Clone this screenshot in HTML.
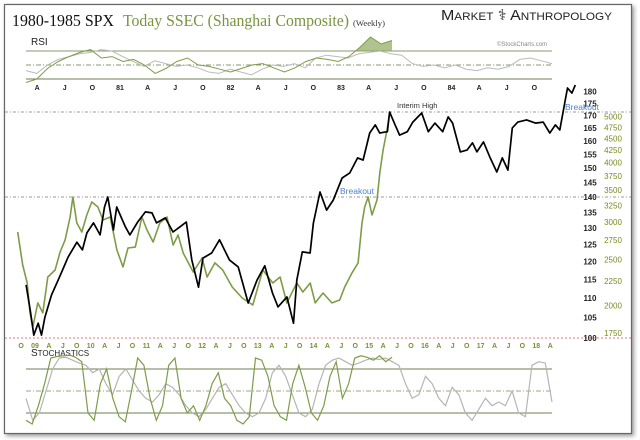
<!DOCTYPE html>
<html><head><meta charset="utf-8">
<style>
html,body{margin:0;padding:0;background:#fff;}
body{width:640px;height:440px;overflow:hidden;position:relative;font-family:"Liberation Sans",sans-serif;}
svg{position:absolute;left:0;top:0;}
</style></head>
<body>
<svg id="chart" width="640" height="440" viewBox="0 0 640 440" xmlns="http://www.w3.org/2000/svg">
  <rect x="4.5" y="4.5" width="627" height="429" fill="#fff" stroke="#666" stroke-width="1.2" style="filter:drop-shadow(2px 2px 2px #999)"/>
  <text x="12" y="26" font-family="Liberation Serif,serif" font-size="17" fill="#111" textLength="102" lengthAdjust="spacingAndGlyphs">1980-1985 SPX</text>
  <text x="123" y="26" font-family="Liberation Serif,serif" font-size="17" fill="#7a9440" textLength="226" lengthAdjust="spacingAndGlyphs">Today SSEC (Shanghai Composite)</text>
  <text x="353" y="26" font-family="Liberation Serif,serif" font-size="8.5" fill="#333" textLength="32" lengthAdjust="spacingAndGlyphs">(Weekly)</text>
  <text x="441" y="20" font-family="Liberation Sans,sans-serif" font-size="15" fill="#222" textLength="171" lengthAdjust="spacingAndGlyphs">M<tspan font-size="11">ARKET</tspan> ⚕ A<tspan font-size="11">NTHROPOLOGY</tspan></text>
  <text x="31" y="45" font-size="10" fill="#222">RSI</text>
  <text x="497" y="46" font-size="6" fill="#888">©StockCharts.com</text>
  <text x="31" y="356" font-size="10" fill="#222">S<tspan font-size="8">TOCHASTICS</tspan></text>
  <g id="g"></g>
</svg>
<script>
// ---- data ----
const spxDates=[1980.15,1980.19,1980.22,1980.26,1980.29,1980.32,1980.38,1980.44,1980.48,1980.53,1980.61,1980.66,1980.70,1980.76,1980.82,1980.86,1980.89,1980.94,1980.97,1981.05,1981.09,1981.16,1981.23,1981.29,1981.33,1981.41,1981.48,1981.54,1981.60,1981.65,1981.71,1981.75,1981.83,1981.90,1981.99,1982.07,1982.16,1982.24,1982.31,1982.38,1982.43,1982.51,1982.57,1982.60,1982.65,1982.72,1982.75,1982.81,1982.87,1982.93,1983.01,1983.08,1983.15,1983.20,1983.26,1983.31,1983.35,1983.42,1983.44,1983.49,1983.53,1983.60,1983.65,1983.73,1983.79,1983.85,1983.92,1983.97,1984.01,1984.08,1984.14,1984.19,1984.23,1984.29,1984.35,1984.41,1984.46,1984.51,1984.55,1984.60,1984.68,1984.76,1984.83,1984.89,1984.94,1984.98,1985.03,1985.05,1985.09,1985.12];
const spxValues=[113.5,106.4,100.7,103.6,100.7,105.1,110.8,114.8,117.6,121.3,125.7,123.4,128.5,131.6,127.9,136.7,140.0,129.4,136.7,130.3,127.9,131.9,135.1,134.8,131.6,133.2,128.8,130.3,131.9,120.5,112.9,121.0,122.5,126.4,120.5,118.5,108.7,114.8,118.8,111.3,107.7,110.3,103.6,114.8,122.8,122.5,131.6,141.7,135.7,139.0,146.5,148.3,153.7,152.9,163.1,166.3,163.1,163.6,171.5,166.3,162.3,163.6,167.4,171.1,163.6,167.0,163.6,169.5,167.0,155.9,156.6,159.3,155.9,159.7,153.7,148.6,153.7,149.3,165.1,167.4,168.3,167.0,167.4,163.1,166.3,164.3,176.5,181.6,179.4,182.9];
const ssecDates=[2008.69,2008.78,2008.86,2008.91,2008.96,2009.05,2009.14,2009.23,2009.36,2009.45,2009.54,2009.63,2009.68,2009.75,2009.84,2009.93,2010.02,2010.13,2010.22,2010.35,2010.47,2010.58,2010.67,2010.80,2010.92,2011.01,2011.12,2011.24,2011.37,2011.48,2011.57,2011.66,2011.84,2012.00,2012.09,2012.23,2012.37,2012.54,2012.72,2012.91,2013.09,2013.27,2013.40,2013.52,2013.70,2013.81,2013.94,2014.03,2014.17,2014.33,2014.47,2014.56,2014.69,2014.80,2014.87,2014.92,2014.98,2015.05,2015.14,2015.19,2015.25,2015.32,2015.37];
const ssecValues=[2857,2434,2231,1929,1801,2025,1929,2297,2376,2593,2750,3073,3386,2985,2857,3103,3306,3226,3029,3073,2618,2411,2644,2656,3073,2885,2722,2985,3073,2683,2816,2581,2353,2519,2297,2459,2376,2188,2074,2005,2376,2231,2297,2025,2231,2135,2231,2025,2125,2025,2054,2188,2341,2459,2985,3226,3386,3103,3338,3806,4255,4688,5117];
const spxTicks=[100,105,110,115,120,125,130,135,140,145,150,155,160,165,170,175,180];
const ssecTicks=[1750,2000,2250,2500,2750,3000,3250,3500,3750,4000,4250,4500,4750,5000];
const topAxisDates=[1980.25,1980.5,1980.75,1981,1981.25,1981.5,1981.75,1982,1982.25,1982.5,1982.75,1983,1983.25,1983.5,1983.75,1984,1984.25,1984.5,1984.75];
const topAxisLabels=["A","J","O","81","A","J","O","82","A","J","O","83","A","J","O","84","A","J","O"];
const bottomAxisDates=[2008.75,2009,2009.25,2009.5,2009.75,2010,2010.25,2010.5,2010.75,2011,2011.25,2011.5,2011.75,2012,2012.25,2012.5,2012.75,2013,2013.25,2013.5,2013.75,2014,2014.25,2014.5,2014.75,2015,2015.25,2015.5,2015.75,2016,2016.25,2016.5,2016.75,2017,2017.25,2017.5,2017.75,2018,2018.25];
const bottomAxisLabels=["O","09","A","J","O","10","A","J","O","11","A","J","O","12","A","J","O","13","A","J","O","14","A","J","O","15","A","J","O","16","A","J","O","17","A","J","O","18","A"];
const rsiSpx=[42,38,50,58,62,66,68,72,70,62,55,48,56,52,48,50,46,40,38,44,40,36,44,50,48,52,46,60,64,62,60,66,68,70,66,64,52,48,50,46,50,44,42,46,44,48,58,60,56,52];
const rsiSsec=[25,30,45,55,62,68,72,60,62,55,58,50,38,45,55,60,50,48,44,40,45,50,52,46,40,46,55,60,58,55,62,75,90,80,85];
const stochSsec=[10,5,30,60,95,97,98,99,96,90,20,10,60,80,40,15,8,50,95,85,40,10,30,85,95,40,20,30,10,30,60,75,40,30,10,5,15,95,92,70,30,15,10,60,85,55,20,10,30,70,90,40,60,95,98,96,92,98,90,96];
const stochSpx=[40,10,20,50,80,95,96,92,88,85,75,80,60,45,70,80,65,50,40,35,45,60,55,45,30,20,15,25,40,55,60,45,30,20,15,20,40,75,85,70,45,20,15,25,60,85,92,95,90,85,88,92,95,93,95,90,85,60,40,45,70,60,40,30,55,45,20,10,25,40,30,35,30,50,20,15,85,90,88,35];

// ---- scales ----
const xSpx=t=>9.5+(t-1980)*110.5;
const xSsec=t=>35+(t-2009)*55.7;
const ySpx=v=>338-419*Math.log(v/100);
const ySsec=v=>333-206*Math.log(v/1750);
const yRsi=v=>65-(v-50)*0.7;
const yStoch=v=>391-(v-50)*0.733;
const NS="http://www.w3.org/2000/svg";
const g=document.getElementById('g');
function mk(tag,attrs){const e=document.createElementNS(NS,tag);for(const k in attrs)e.setAttribute(k,attrs[k]);g.appendChild(e);return e;}
function pathFrom(xs,ys){return xs.map((x,i)=>(i?'L':'M')+x.toFixed(1)+' '+ys[i].toFixed(1)).join(' ');}
function evenX(n,x0,x1){const a=[];for(let i=0;i<n;i++)a.push(x0+(x1-x0)*i/(n-1));return a;}

// reference lines
let l;
l=mk('line',{x1:5,x2:631,y1:ySpx(171.5),y2:ySpx(171.5),stroke:'#777','stroke-width':0.8,'stroke-dasharray':'3 2 1 2'});


l=mk('line',{x1:5,x2:631,y1:ySpx(140),y2:ySpx(140),stroke:'#777','stroke-width':0.8,'stroke-dasharray':'3 2 1 2'});


l=mk('line',{x1:5,x2:631,y1:ySpx(100),y2:ySpx(100),stroke:'#e05050','stroke-width':0.8,'stroke-dasharray':'2 2'});



// RSI panel
[[70,'#8a9a70','none'],[50,'#8a9a70','5 2 1 2'],[30,'#6e8050','none']].forEach(([v,c,d])=>{
  const e=mk('line',{x1:26,x2:552,y1:yRsi(v),y2:yRsi(v),stroke:c,'stroke-width':1,'stroke-dasharray':d});
  
  
});
const rsiGx=evenX(rsiSpx.length,26,552);
let p=mk('path',{d:pathFrom(rsiGx,rsiSpx.map(yRsi)),fill:'none',stroke:'#bbb','stroke-width':1});


const rsiGrx=evenX(rsiSsec.length,26,392);
const cp=mk('clipPath',{id:'above70'});cp.innerHTML='<rect x="0" y="0" width="640" height="'+yRsi(70)+'"/>';
p=mk('path',{d:pathFrom(rsiGrx,rsiSsec.map(yRsi))+' L392 '+yRsi(70)+' L26 '+yRsi(70)+' Z',fill:'#8faa60','fill-opacity':0.7,stroke:'none','clip-path':'url(#above70)'});


p=mk('path',{d:pathFrom(rsiGrx,rsiSsec.map(yRsi)),fill:'none',stroke:'#7e9c48','stroke-width':1});



// top axis labels
topAxisDates.forEach((t,i)=>{
  const e=mk('text',{x:xSpx(t),y:90,'font-size':7,'font-weight':'bold','text-anchor':'middle',fill:'#222'});
  e.textContent=topAxisLabels[i];
  
  
});
// bottom axis labels
bottomAxisDates.forEach((t,i)=>{
  const e=mk('text',{x:xSsec(t),y:348,'font-size':7,'font-weight':'bold','text-anchor':'middle',fill:'#7a9030'});
  e.textContent=bottomAxisLabels[i];
  
  
});

// y ticks
spxTicks.forEach(v=>{
  const e=mk('text',{x:590,y:ySpx(v)+3,'font-size':8,'font-weight':'bold','text-anchor':'middle',fill:'#222'});
  e.textContent=v;
  
  
});
ssecTicks.forEach(v=>{
  const e=mk('text',{x:613,y:ySsec(v)+3,'font-size':8,'text-anchor':'middle',fill:'#7a8a20'});
  e.textContent=v;
  
  
});

// main series
p=mk('path',{d:pathFrom(ssecDates.map(xSsec),ssecValues.map(ySsec)),fill:'none',stroke:'#7e9c48','stroke-width':1.6,'stroke-linejoin':'round'});


p=mk('path',{d:pathFrom(spxDates.map(xSpx),spxValues.map(ySpx)),fill:'none',stroke:'#000','stroke-width':1.7,'stroke-linejoin':'round'});



// annotations
let tx=mk('text',{x:397,y:108,'font-size':7.5,fill:'#333'});tx.textContent='Interim High';


tx=mk('text',{x:340,y:194,'font-size':8.5,fill:'#4a80d0'});tx.textContent='Breakout';


tx=mk('text',{x:565,y:110,'font-size':8.5,fill:'#4a80d0'});tx.textContent='Breakout';



// Stochastics panel
[[80,'#6e8050','none'],[50,'#9aa880','5 2 1 2'],[20,'#6e8050','none']].forEach(([v,c,d])=>{
  const e=mk('line',{x1:26,x2:552,y1:yStoch(v),y2:yStoch(v),stroke:c,'stroke-width':1,'stroke-dasharray':d});
  
  
});
p=mk('path',{d:pathFrom(evenX(stochSpx.length,26,552),stochSpx.map(yStoch)),fill:'none',stroke:'#b5b5b5','stroke-width':1.2});


p=mk('path',{d:pathFrom(evenX(stochSsec.length,26,392),stochSsec.map(yStoch)),fill:'none',stroke:'#7e9c48','stroke-width':1.2});


</script>
</body></html>
